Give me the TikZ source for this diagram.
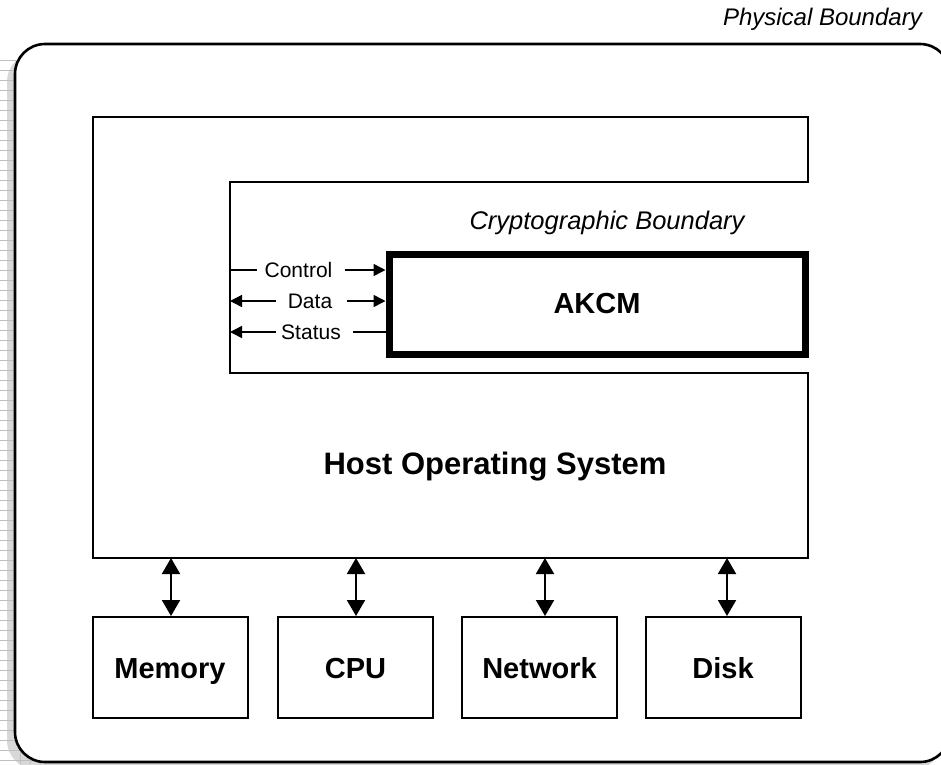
\documentclass[tikz,border=0pt]{standalone}
\usepackage{fontspec}
\setmainfont{Liberation Sans}
\usetikzlibrary{arrows.meta}
\definecolor{shadowgray}{RGB}{216,216,216}
\definecolor{shadowline}{RGB}{190,190,190}
\tikzset{
  px/.style={x=1pt,y=-1pt},
  boundary/.style={line width=2.6pt,rounded corners=30pt},
  osline/.style={line width=2pt},
  akcmbox/.style={draw,line width=7pt,minimum width=416pt,minimum height=100pt,inner sep=0pt,
    font=\fontsize{29}{33}\selectfont\bfseries},
  hwbox/.style={draw,line width=2pt,minimum width=155pt,minimum height=101pt,inner sep=0pt,
    text height=21pt,text depth=0pt,font=\fontsize{29}{33}\selectfont\bfseries},
  lbl/.style={inner sep=0pt,font=\fontsize{21}{24}\selectfont},
  title/.style={inner sep=0pt,font=\fontsize{24}{28}\selectfont\itshape},
  crypttitle/.style={inner sep=0pt,font=\fontsize{25.5}{29}\selectfont\itshape},
  bigtext/.style={inner sep=0pt,font=\fontsize{31}{35}\selectfont\bfseries},
  sidewire/.style={line width=1.5pt},
  sidearrow/.style={line width=1.5pt,-{Triangle[length=12pt,width=12pt]}},
  sidearrowl/.style={line width=1.5pt,{Triangle[length=12pt,width=12pt]}-},
  busarrow/.style={line width=2pt,{Triangle[length=16pt,width=18pt]}-{Triangle[length=16pt,width=18pt]}},
}
\begin{document}
\begin{tikzpicture}[px]
\useasboundingbox (0,0) rectangle (941,764);
% shadow of the physical boundary
\begin{scope}
  \clip (0,0) rectangle (941,764);
  \fill[shadowgray,rounded corners=30pt] (7,52) rectangle (942,770);
  \begin{scope}
    \clip (0,0) rectangle (16,764);
    \foreach \yy in {60,70,...,770} \draw[shadowline,line width=0.5pt] (0,\yy) -- (16,\yy);
  \end{scope}
  \begin{scope}
    \clip (0,740) rectangle (60,764);
    \foreach \yy in {740,750,760} \draw[shadowline,line width=0.5pt] (0,\yy) -- (60,\yy);
    \foreach \xx in {20,30,40,50} \draw[shadowline,line width=0.5pt] (\xx,740) -- (\xx,764);
  \end{scope}
  \fill[white,rounded corners=30pt] (15,44) rectangle (950,762);
  \draw[boundary] (15,44) rectangle (950,762);
\end{scope}
\node[title,anchor=base east] (phys) at (922,25) {Physical Boundary};
% host operating system outline
\draw[osline] (93,117) -- (808,117) -- (808,182) -- (230,182) -- (230,373) -- (808,373) -- (808,558) -- (93,558) -- cycle;
\coordinate (osin) at (230,0);
\coordinate (osbot) at (0,558);
\node[crypttitle,anchor=base] (crypto) at (607,229) {Cryptographic Boundary};
\node[bigtext,text height=22pt,text depth=0pt] (host) at (495,463) {Host Operating System};
% AKCM
\node[akcmbox] (akcm) at (597,304) {AKCM};
\coordinate (akw) at (385.5,0);
% interface labels
\node[lbl] (ctl) at (298.5,270) {Control};
\node[lbl] (dat) at (310,301) {Data};
\node[lbl] (sta) at (311,332) {Status};
\draw[sidewire] (ctl -| osin) -- ([xshift=-7pt]ctl.west);
\draw[sidearrow] ([xshift=12pt]ctl.east) -- (ctl -| akw);
\draw[sidearrowl] (dat -| osin) -- ([xshift=-12pt]dat.west);
\draw[sidearrow] ([xshift=15pt]dat.east) -- (dat -| akw);
\draw[sidearrowl] (sta -| osin) -- ([xshift=-5pt]sta.west);
\draw[sidewire] ([xshift=12pt]sta.east) -- (sta -| akw);
% hardware
\node[hwbox] (mem) at (170,667.5) {Memory};
\node[hwbox] (cpu) at (355.5,667.5) {CPU};
\node[hwbox] (net) at (539.5,667.5) {Network};
\node[hwbox] (disk) at (723,667.5) {Disk};
\draw[busarrow] ([xshift=1pt]mem.north |- osbot) -- ([xshift=1pt]mem.north);
\draw[busarrow] ([xshift=0.5pt]cpu.north |- osbot) -- ([xshift=0.5pt]cpu.north);
\draw[busarrow] ([xshift=5.5pt]net.north |- osbot) -- ([xshift=5.5pt]net.north);
\draw[busarrow] ([xshift=4pt]disk.north |- osbot) -- ([xshift=4pt]disk.north);
\end{tikzpicture}
\end{document}
